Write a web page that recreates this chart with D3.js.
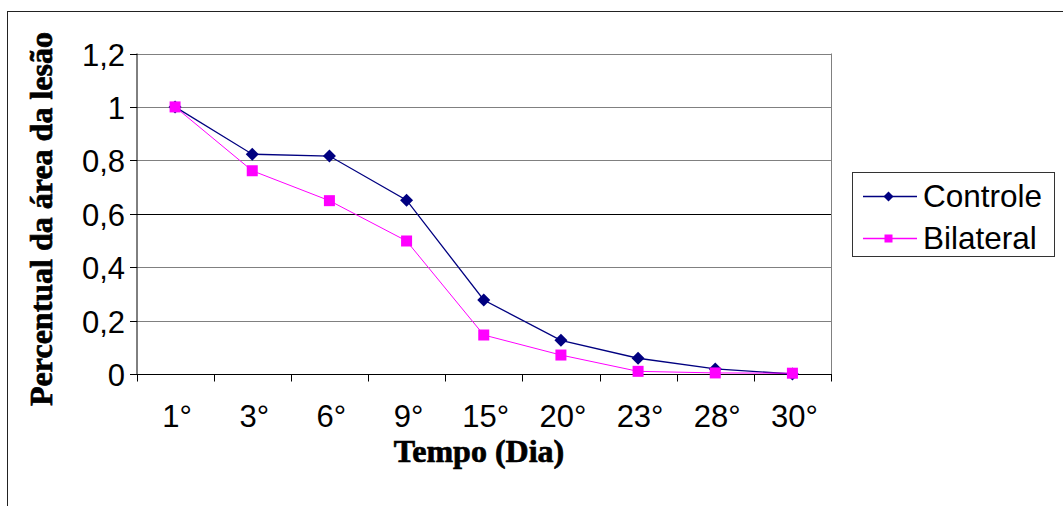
<!DOCTYPE html>
<html>
<head>
<meta charset="utf-8">
<script src="https://cdn.jsdelivr.net/npm/d3@7"></script>
<style>
  html, body { margin: 0; padding: 0; background: #fff; }
  svg { display: block; }
  .tick-label { font-family: "Liberation Sans", Arial, sans-serif; font-size: 31px; fill: #000; }
  .axis-title { font-family: "Liberation Serif", "Times New Roman", serif; font-size: 32px; font-weight: bold; fill: #000; stroke: #000; stroke-width: 0.7px; }
  .legend-label { font-family: "Liberation Sans", Arial, sans-serif; font-size: 31.5px; fill: #000; }
</style>
</head>
<body>
<script>
// Days of observation and the relative lesion area for each group
const days = ["1°", "3°", "6°", "9°", "15°", "20°", "23°", "28°", "30°"];
const controle = [1.0, 0.823, 0.816, 0.651, 0.277, 0.126, 0.059, 0.019, 0.0];
const bilateral = [1.0, 0.761, 0.649, 0.498, 0.146, 0.071, 0.010, 0.004, 0.003];
const yTicks = [0, 0.2, 0.4, 0.6, 0.8, 1.0, 1.2];
const seriesNames = ["Controle", "Bilateral"];

const W = 1063, H = 506;
const plot = { left: 136.5, right: 831, top: 53.5, bottom: 374 };

const svg = d3.select("body").append("svg").attr("width", W).attr("height", H);

// Outer chart frame
svg.append("rect")
  .attr("x", 7.5).attr("y", 11.5)
  .attr("width", W + 10).attr("height", H + 10)
  .attr("fill", "none").attr("stroke", "#222").attr("stroke-width", 1);

const x = d3.scaleBand().domain(days).range([plot.left, plot.right]).padding(0);
const y = d3.scaleLinear().domain([0, 1.2]).range([plot.bottom, plot.top]);

// Horizontal gridlines
svg.append("g").selectAll("line").data(yTicks.filter(d => d > 0)).join("line")
  .attr("x1", plot.left).attr("x2", plot.right)
  .attr("y1", d => Math.round(y(d)) + 0.5).attr("y2", d => Math.round(y(d)) + 0.5)
  .attr("stroke", d => Math.abs(d - 0.6) < 1e-9 ? "#000" : "#808080")
  .attr("stroke-width", 1);

// Right edge of the plot area
svg.append("line")
  .attr("x1", plot.right + 0.5).attr("x2", plot.right + 0.5)
  .attr("y1", y(1.2)).attr("y2", plot.bottom)
  .attr("stroke", "#808080");

// Y axis
const yAxis = svg.append("g")
  .attr("transform", `translate(${plot.left + 0.5},0)`)
  .call(d3.axisLeft(y).tickValues(yTicks).tickSize(7).tickPadding(5)
    .tickFormat(d => d3.format(".1f")(d).replace(".0", "").replace(".", ",")));
yAxis.select(".domain").attr("stroke", "#000").attr("d", `M0,${y(1.2)}V${plot.bottom}`);
yAxis.selectAll(".tick line").attr("stroke", "#000");
yAxis.selectAll(".tick text").attr("class", "tick-label").attr("font-size", null).attr("font-family", null)
  .attr("dy", "0.36em").attr("x", -12);
yAxis.selectAll(".tick").attr("transform", d => `translate(0,${Math.round(y(d)) + 0.5})`);

// X axis: tick marks sit on category boundaries, labels centred in each band
const xAxisG = svg.append("g").attr("transform", `translate(0,${Math.round(plot.bottom) + 0.5})`);
xAxisG.append("line").attr("x1", plot.left).attr("x2", plot.right + 1).attr("stroke", "#000");
const boundaries = days.map(d => x(d)).concat([plot.right]);
xAxisG.selectAll("line.tk").data(boundaries).join("line").attr("class", "tk")
  .attr("x1", d => Math.round(d) + 0.5).attr("x2", d => Math.round(d) + 0.5)
  .attr("y1", 0).attr("y2", 7).attr("stroke", "#000");
xAxisG.selectAll("text").data(days).join("text")
  .attr("class", "tick-label")
  .attr("x", d => x(d) + x.bandwidth() / 2 + 2)
  .attr("y", 52)
  .attr("text-anchor", "middle")
  .text(d => d);

// Axis titles
svg.append("text").attr("class", "axis-title")
  .attr("x", 479).attr("y", 462).attr("text-anchor", "middle")
  .text("Tempo (Dia)");
svg.append("text").attr("class", "axis-title")
  .attr("transform", "translate(52,219) rotate(-90)")
  .attr("text-anchor", "middle")
  .text("Percentual da área da lesão");

const cx = d => x(d) + x.bandwidth() / 2;
const line = d3.line().x((v, i) => cx(days[i])).y(v => y(v));

// Controle series (navy, diamonds)
svg.append("path").datum(controle).attr("d", line)
  .attr("fill", "none").attr("stroke", "#000080").attr("stroke-width", 1.3);
svg.append("g").selectAll("path").data(controle).join("path")
  .attr("transform", (v, i) => `translate(${cx(days[i])},${y(v)})`)
  .attr("d", "M0,-6.5L6.5,0L0,6.5L-6.5,0Z")
  .attr("fill", "#000080");

// Bilateral series (magenta, squares)
svg.append("path").datum(bilateral).attr("d", line)
  .attr("fill", "none").attr("stroke", "#FF00FF").attr("stroke-width", 1);
svg.append("g").selectAll("rect").data(bilateral).join("rect")
  .attr("x", (v, i) => cx(days[i]) - 5.5).attr("y", v => y(v) - 5.5)
  .attr("width", 11).attr("height", 11)
  .attr("fill", "#FF00FF");

// Legend
const legend = svg.append("g");
legend.append("rect")
  .attr("x", 852.5).attr("y", 172.5).attr("width", 202).attr("height", 84)
  .attr("fill", "#fff").attr("stroke", "#333");
const legendRows = [
  { name: seriesNames[0], color: "#000080", shape: "diamond", y: 196 },
  { name: seriesNames[1], color: "#FF00FF", shape: "square", y: 238 }
];
legendRows.forEach(r => {
  legend.append("line").attr("x1", 863).attr("x2", 917).attr("y1", r.y + 0.5).attr("y2", r.y + 0.5)
    .attr("stroke", r.color).attr("stroke-width", 1.3);
  if (r.shape === "diamond") {
    legend.append("path").attr("transform", `translate(888.5,${r.y + 0.5})`)
      .attr("d", "M0,-5L5,0L0,5L-5,0Z").attr("fill", r.color);
  } else {
    legend.append("rect").attr("x", 884.5).attr("y", r.y - 3.5).attr("width", 8).attr("height", 8)
      .attr("fill", r.color);
  }
  legend.append("text").attr("class", "legend-label")
    .attr("x", 923).attr("y", r.y + 11).text(r.name);
});
</script>
</body>
</html>
